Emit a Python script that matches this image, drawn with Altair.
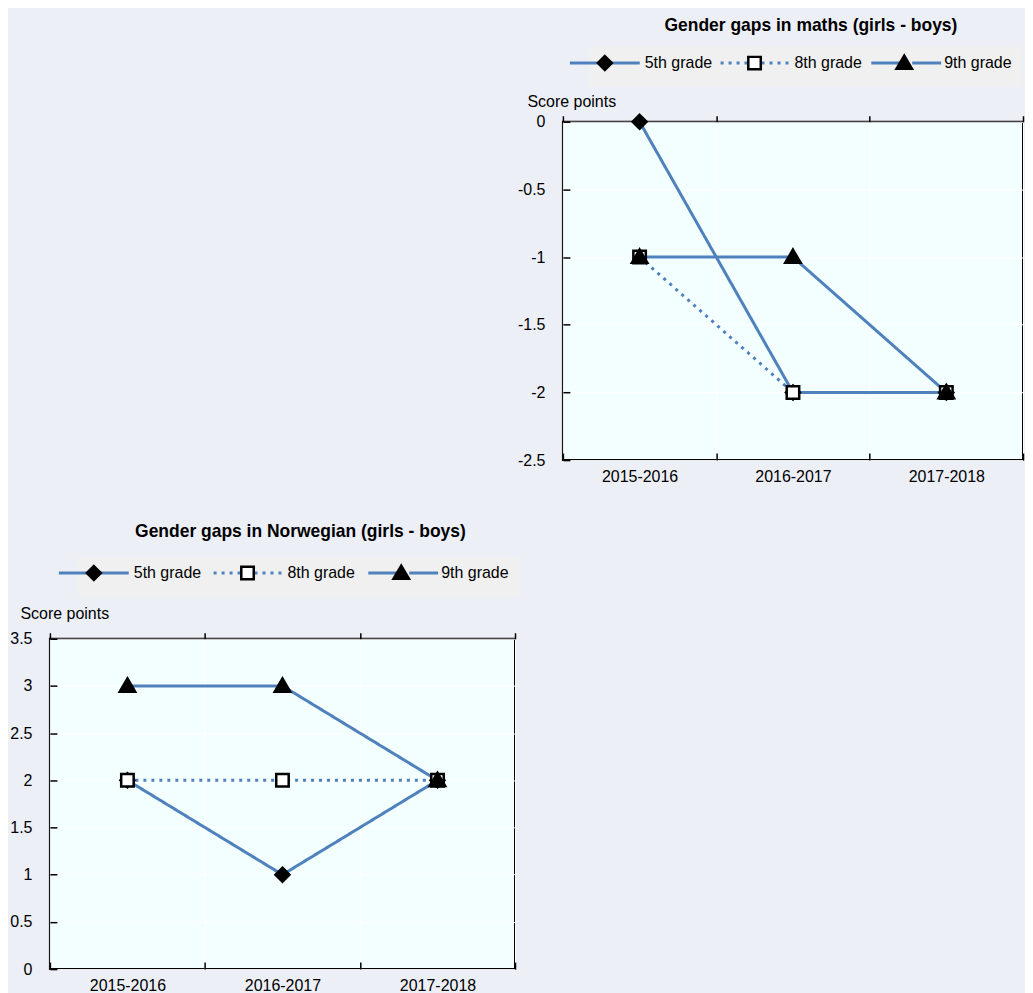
import altair as alt
import pandas as pd

periods = ["2015-2016", "2016-2017", "2017-2018"]
grades = ["5th grade", "8th grade", "9th grade"]

maths_5th = [0, -2, -2]
maths_8th = [-1, -2, -2]
maths_9th = [-1, -1, -2]
maths_ticks = [-2.5, -2, -1.5, -1, -0.5, 0]

norw_5th = [2, 1, 2]
norw_8th = [2, 2, 2]
norw_9th = [3, 3, 2]
norw_ticks = [0, 0.5, 1, 1.5, 2, 2.5, 3, 3.5]

FONT = "Liberation Sans"
FS = 16
BLUE = "#4F81BD"
PAGE_BG = "#EDEFF7"
PLOT_BG = "#F3FFFF"
LEG_BG = "#F0F0F0"

EXT = "M-7,-1.9M7,1.9"
LINE_PATH = EXT + "M-7,0H-1.2M1.2,0H7"
DIAMOND = EXT + "M0,-1.4L1.4,0L0,1.4L-1.4,0Z"
SQUARE = EXT + "M-1.25,-1.25H1.25V1.25H-1.25Z"
TRIANGLE = EXT + "M0,-1.5L1.55,1.15L-1.55,1.15Z"


def make_df(v5, v8, v9):
    rows = []
    for g, vals in zip(grades, [v5, v8, v9]):
        for p, v in zip(periods, vals):
            rows.append({"period": p, "grade": g, "grade_m": g, "value": v})
    return pd.DataFrame(rows)


def panel(title, v5, v8, v9, ticks, ymin, ymax, w, h, legend_x, legend_y, col_pad,
          title_off, title_x, title_y):
    df = make_df(v5, v8, v9)
    base = alt.Chart(df)
    xscale = alt.Scale(type="band", paddingInner=0, paddingOuter=0)
    yscale = alt.Scale(domain=[ymin, ymax], nice=False, zero=False)
    yaxis = alt.Axis(
        values=ticks, title="Score points", titleAngle=0, titleAlign="left",
        titleBaseline="middle", titleX=title_x, titleY=title_y, titleFont=FONT,
        titleFontSize=FS, titleFontWeight="normal", titleColor="black",
        labelExpr="'' + datum.value", labelFont=FONT, labelFontSize=FS,
        labelColor="black", grid=True, gridColor="white", gridWidth=1,
        domain=False, tickColor="black", tickWidth=1.5,
        tickSize=7, offset=-7, labelPadding=18,
    )
    xaxis = alt.Axis(
        title=None, labelAngle=0, tickBand="extent", labelFont=FONT,
        labelFontSize=FS, labelColor="black", grid=True, gridColor="white",
        gridWidth=1, domain=False, tickColor="black",
        tickWidth=1.5, tickSize=7, offset=-7, labelPadding=8,
    )
    xaxis_top = alt.Axis(
        orient="top", title=None, labels=False, domain=False, grid=False,
        ticks=True, tickBand="extent", tickSize=6, tickColor="black", tickWidth=1.5,
    )
    common_leg = dict(
        orient="none", legendX=legend_x, legendY=legend_y, direction="horizontal",
        title=None, symbolSize=100, symbolOffset=0, labelOffset=32,
        labelFont=FONT, labelFontSize=FS, labelColor="black",
        columnPadding=col_pad, padding=8,
    )
    line_leg = alt.Legend(
        symbolType=LINE_PATH, symbolStrokeWidth=3, labelOpacity=0,
        fillColor=LEG_BG, **common_leg,
    )
    pt_leg = alt.Legend(symbolStrokeWidth=2.5, **common_leg)

    lines = base.mark_line(color=BLUE, strokeWidth=3).encode(
        x=alt.X("period:N", sort=periods, scale=xscale, axis=xaxis),
        y=alt.Y("value:Q", scale=yscale, axis=yaxis),
        strokeDash=alt.StrokeDash(
            "grade:N", scale=alt.Scale(range=[[1, 0], [3, 5], [1, 0]]), legend=line_leg
        ),
    )
    points = base.mark_point(
        filled=True, size=100, opacity=1, stroke="black", strokeWidth=2.5
    ).encode(
        x=alt.X("period:N", sort=periods, scale=xscale, axis=xaxis_top),
        y=alt.Y("value:Q", scale=yscale, axis=yaxis),
        color=alt.Color("grade_m:N", scale=alt.Scale(range=["black", "white", "black"])),
        shape=alt.Shape(
            "grade_m:N", scale=alt.Scale(range=[DIAMOND, SQUARE, TRIANGLE]), legend=pt_leg
        ),
    )
    return (
        alt.layer(lines, points)
        .resolve_axis(x="independent")
        .properties(
            width=w, height=h,
            title=alt.TitleParams(
                title, font=FONT, fontSize=17.5, fontWeight="bold", color="black",
                anchor="middle", frame="group", dx=18, offset=title_off,
            ),
        )
    )


maths = panel("Gender gaps in maths (girls - boys)", maths_5th, maths_8th, maths_9th,
              maths_ticks, -2.5, 0, 461, 339, 26, -75, 2, 12, -43, -20)
norw = panel("Gender gaps in Norwegian (girls - boys)", norw_5th, norw_8th, norw_9th,
             norw_ticks, 0, 3.5, 466, 331, 28, -82, 6, 16, -37, -25)

spacer = (
    alt.Chart(pd.DataFrame({"a": [0]}))
    .mark_point(opacity=0)
    .properties(width=466, height=10,
                view=alt.ViewBackground(fill="transparent", stroke="transparent"))
)

ind = dict(strokeDash="independent", color="independent", shape="independent")
top_row = alt.hconcat(spacer, maths, spacing=0).resolve_scale(**ind)
chart = (
    alt.vconcat(top_row, norw, spacing=37)
    .resolve_scale(**ind)
    .properties(padding={"left": 0, "top": 7, "right": 0, "bottom": 0},
                background=PAGE_BG)
    .configure_view(stroke="black", strokeWidth=2, fill=PLOT_BG)
)

chart.save("out.html", embed_options={"renderer": "svg", "actions": False})
